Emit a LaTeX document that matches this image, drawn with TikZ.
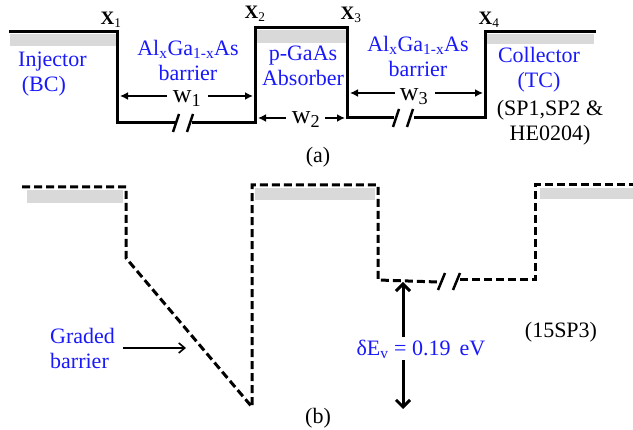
\documentclass[tikz,border=0pt]{standalone}
\usepackage{fontspec}
\setmainfont{Liberation Serif}
\usetikzlibrary{arrows.meta}
\definecolor{bandgray}{RGB}{217,217,217}
\definecolor{lblue}{RGB}{25,25,250}
\begin{document}
\begin{tikzpicture}[x=1pt,y=-1pt,
  band/.style={line width=3pt, line join=miter, line cap=rect},
  dband/.style={line width=3pt, dash pattern=on 8pt off 4pt, line join=miter},
  gbar/.style={fill=bandgray, draw=none},
  slash/.style={line width=2.5pt},
  lbl/.style={text=lblue, font=\fontsize{22}{25}\selectfont, align=center, inner sep=0pt},
  blk/.style={text=black, font=\fontsize{22}{25}\selectfont, align=center, inner sep=0pt},
  xl/.style={font=\fontsize{19}{20}\selectfont, inner sep=0pt},
  wl/.style={font=\fontsize{26}{28}\selectfont, inner sep=0pt, text height=12pt, text depth=6pt},
  warrow/.style={line width=2pt, -{Latex[length=8pt,width=8pt]}},
  darrow/.style={line width=3pt, -{Straight Barb[length=7pt,width=14pt]}},
  garrow/.style={line width=1.6pt, -{Straight Barb[length=6pt,width=10pt]}},
]
\useasboundingbox (0,0) rectangle (633,430);

% ---------- panel (a) ----------
\fill[gbar] (10,34) rectangle (116,46);
\fill[gbar] (256,30) rectangle (346,43);
\fill[gbar] (486,34) rectangle (594,44);

\draw[band] (10,32) -- (117,32) -- (117,123) -- (175,123);
\draw[band] (193,123) -- (255,123) -- (255,28) -- (347,28) -- (347,118) -- (392,118);
\draw[band] (415,118) -- (485,118) -- (485,32) -- (594,32);

\draw[slash] (173,132) -- (179,114);
\draw[slash] (187,132) -- (193,114);
\draw[slash] (393,127) -- (399,109);
\draw[slash] (407,127) -- (413,109);

\node[xl] (x1) at (111,20) {\textbf{X}\textsubscript{1}};
\node[xl] (x2) at (255,14) {\textbf{X}\textsubscript{2}};
\node[xl] (x3) at (351,15) {\textbf{X}\textsubscript{3}};
\node[xl] (x4) at (489,20) {\textbf{X}\textsubscript{4}};

\node[lbl, align=left, anchor=west] (inj) at (18,74) {Injector\\\,(BC)};
\node[lbl] (bar1) at (188,60) {Al\textsubscript{x}Ga\textsubscript{1-x}As\\barrier};
\node[lbl] (abs) at (303,66) {p-GaAs\\Absorber};
\node[lbl] (bar3) at (418,56) {Al\textsubscript{x}Ga\textsubscript{1-x}As\\barrier};
\node[lbl] (col) at (539,70) {Collector\\(TC)};
\node[blk] (sp) at (550,123) {(SP1,SP2 \&\\HE0204)};
\node[blk] (a) at (318,157) {(a)};

\node[wl] (w1) at (187,100) {w\textsubscript{1}};
\node[wl] (w2) at (306,121) {w\textsubscript{2}};
\node[wl] (w3) at (414,98) {w\textsubscript{3}};

\coordinate (w1l) at (120,96);
\coordinate (w1r) at (253,96);
\coordinate (w2l) at (258,118);
\coordinate (w2r) at (345,118);
\coordinate (w3l) at (350,93);
\coordinate (w3r) at (483,93);
\draw[warrow] (167,96) -- (w1l);
\draw[warrow] (208,96) -- (w1r);
\draw[warrow] (286,118) -- (w2l);
\draw[warrow] (325,118) -- (w2r);
\draw[warrow] (395,93) -- (w3l);
\draw[warrow] (435,93) -- (w3r);

% ---------- panel (b) ----------
\fill[gbar] (27,190) rectangle (123,203);
\fill[gbar] (255,188) rectangle (375,200);
\fill[gbar] (540,188) rectangle (633,199);

\draw[dband] (22,187) -- (126,187) -- (126,258) -- (252,407) -- (252,185) -- (378,185) -- (378,280) -- (438,282);
\draw[dband] (460,280) -- (535,280) -- (535,185) -- (633,185);
\draw[slash] (438,290) -- (445,273);
\draw[slash] (453,290) -- (460,273);

\node[lbl, align=left, anchor=west] (grad) at (50,348) {Graded\\barrier};
\coordinate (gtip) at (186,348);
\draw[garrow] (123,348) -- (gtip);

\node[lbl] (de) at (421,349) {δE\textsubscript{v} = 0.19\, eV};
\coordinate (detop) at (403,282);
\coordinate (debot) at (403,409);
\draw[darrow] (403,337) -- (detop);
\draw[darrow] (403,360) -- (debot);

\node[blk] (sp3) at (561,332) {(15SP3)};
\node[blk] (b) at (318,418) {(b)};
\end{tikzpicture}
\end{document}
